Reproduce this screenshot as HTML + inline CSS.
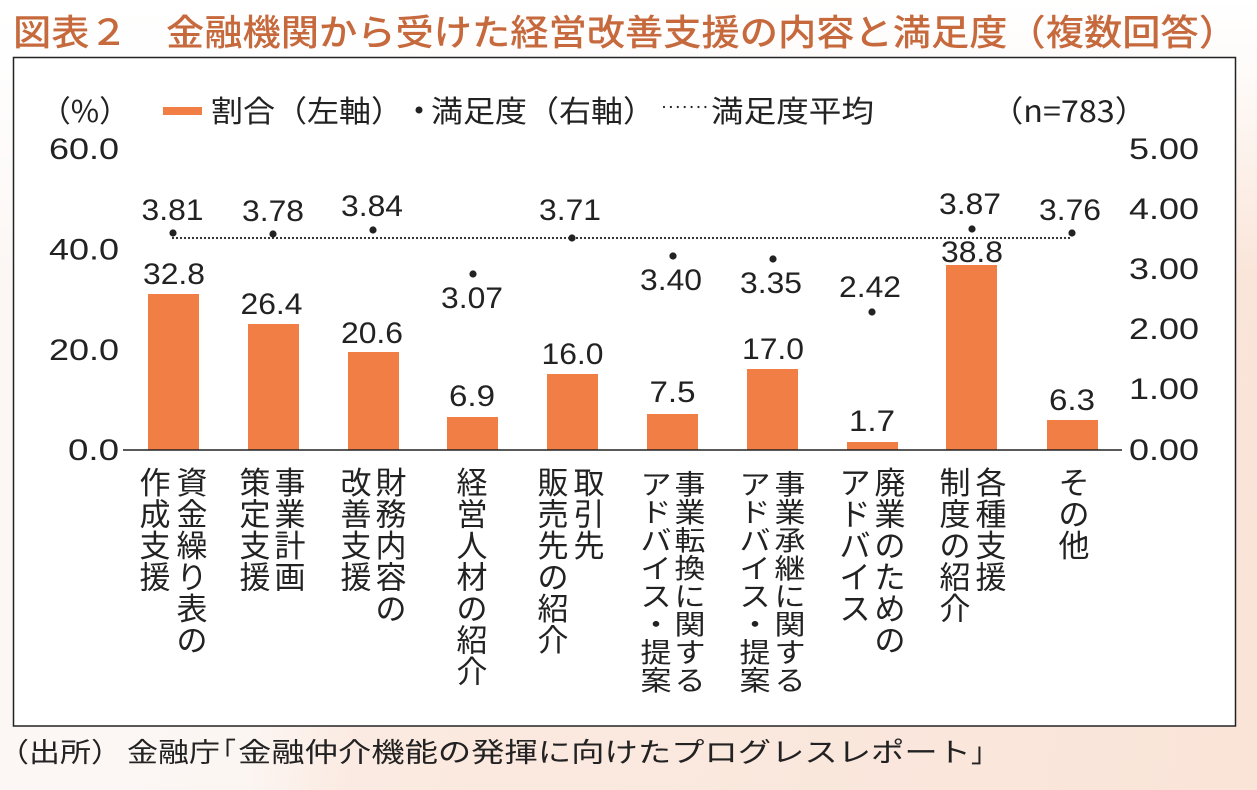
<!DOCTYPE html>
<html>
<head>
<meta charset="utf-8">
<style>
  html, body { margin:0; padding:0; }
  body {
    width:1257px; height:790px; overflow:hidden;
    background:
      linear-gradient(to bottom, rgba(255,255,255,1) 0%, rgba(255,255,255,0.85) 9%, rgba(255,255,255,0) 35%),
      linear-gradient(100deg, #fcf7f5 0%, #fcf6f3 27%, #fbeae1 35%, #fae4d8 100%);
  }
  svg { display:block; position:absolute; left:0; top:0; }
  .t { font-family:"Liberation Sans","Noto Sans CJK JP",sans-serif; fill:#222; }
  .c { font-family:"Noto Sans CJK JP",sans-serif; fill:#222; }
  .n { font-family:"Liberation Sans",sans-serif; fill:#222; font-size:29.5px; }
  .v { font-family:"Liberation Sans","Noto Sans CJK JP",sans-serif; fill:#222; font-size:31px; text-anchor:middle; }
</style>
</head>
<body>
<svg width="1257" height="790" viewBox="0 0 1257 790" xmlns="http://www.w3.org/2000/svg">
  <!-- Title -->
  <text class="t" x="13" y="45" font-size="36" font-weight="500" style="fill:#c66a3e" textLength="1224" lengthAdjust="spacingAndGlyphs">図表２　金融機関から受けた経営改善支援の内容と満足度（複数回答）</text>

  <!-- Frame -->
  <rect x="13.5" y="57.5" width="1222" height="668.5" fill="#ffffff" stroke="#222" stroke-width="1.5"/>

  <!-- Legend -->
  <text class="c" x="40" y="122" font-size="30" textLength="90" lengthAdjust="spacingAndGlyphs">（%）</text>
  <rect x="163" y="107" width="39" height="8" fill="#f17e45"/>
  <text class="t" x="211" y="122" font-size="30" textLength="192" lengthAdjust="spacingAndGlyphs">割合（左軸）</text>
  <circle cx="419" cy="110" r="3.5" fill="#222"/>
  <text class="t" x="431" y="122" font-size="30" textLength="224" lengthAdjust="spacingAndGlyphs">満足度（右軸）</text>
  <line x1="664" y1="107" x2="712" y2="107" stroke="#222" stroke-width="2.2" stroke-linecap="round" stroke-dasharray="0 6.9"/>
  <text class="t" x="711" y="122" font-size="30" textLength="163" lengthAdjust="spacingAndGlyphs">満足度平均</text>
  <text class="c" x="991" y="122" font-size="30" textLength="156" lengthAdjust="spacingAndGlyphs">（n=783）</text>

  <!-- Left axis labels -->
  <g class="n" text-anchor="end">
    <text x="119" y="159" textLength="70" lengthAdjust="spacingAndGlyphs">60.0</text>
    <text x="119" y="259.5" textLength="70" lengthAdjust="spacingAndGlyphs">40.0</text>
    <text x="119" y="360" textLength="70" lengthAdjust="spacingAndGlyphs">20.0</text>
    <text x="119" y="460" textLength="51" lengthAdjust="spacingAndGlyphs">0.0</text>
  </g>
  <!-- Right axis labels -->
  <g class="n">
    <text x="1129" y="159" textLength="70" lengthAdjust="spacingAndGlyphs">5.00</text>
    <text x="1129" y="219" textLength="70" lengthAdjust="spacingAndGlyphs">4.00</text>
    <text x="1129" y="279" textLength="70" lengthAdjust="spacingAndGlyphs">3.00</text>
    <text x="1129" y="339" textLength="70" lengthAdjust="spacingAndGlyphs">2.00</text>
    <text x="1129" y="399" textLength="70" lengthAdjust="spacingAndGlyphs">1.00</text>
    <text x="1129" y="460" textLength="70" lengthAdjust="spacingAndGlyphs">0.00</text>
  </g>

  <!-- Bars -->
  <g fill="#f17e45">
    <rect x="148" y="294" width="51" height="156"/>
    <rect x="248" y="324" width="51" height="126"/>
    <rect x="348" y="352" width="51" height="98"/>
    <rect x="447" y="417" width="51" height="33"/>
    <rect x="547" y="374" width="51" height="76"/>
    <rect x="647" y="414" width="51" height="36"/>
    <rect x="747" y="369" width="51" height="81"/>
    <rect x="847" y="442" width="51" height="8"/>
    <rect x="946" y="265" width="51" height="185"/>
    <rect x="1047" y="420" width="51" height="30"/>
  </g>

  <!-- Baseline -->
  <line x1="123" y1="450" x2="1122" y2="450" stroke="#222" stroke-width="1.4"/>

  <!-- Average dotted line -->
  <line x1="173" y1="238" x2="1070" y2="238" stroke="#222" stroke-width="2.2" stroke-linecap="round" stroke-dasharray="0 4"/>

  <!-- Satisfaction markers -->
  <g fill="#222">
    <circle cx="173" cy="233" r="3.6"/>
    <circle cx="273" cy="234" r="3.6"/>
    <circle cx="373" cy="230" r="3.6"/>
    <circle cx="473" cy="274" r="3.6"/>
    <circle cx="572" cy="238" r="3.6"/>
    <circle cx="673" cy="256" r="3.6"/>
    <circle cx="773" cy="259" r="3.6"/>
    <circle cx="872" cy="312" r="3.6"/>
    <circle cx="972" cy="229" r="3.6"/>
    <circle cx="1072" cy="233" r="3.6"/>
  </g>

  <!-- Marker labels -->
  <g class="n" text-anchor="middle">
    <text x="172.5" y="220" textLength="62" lengthAdjust="spacingAndGlyphs">3.81</text>
    <text x="273" y="221" textLength="62" lengthAdjust="spacingAndGlyphs">3.78</text>
    <text x="372" y="216" textLength="62" lengthAdjust="spacingAndGlyphs">3.84</text>
    <text x="472" y="308" textLength="62" lengthAdjust="spacingAndGlyphs">3.07</text>
    <text x="570" y="220" textLength="62" lengthAdjust="spacingAndGlyphs">3.71</text>
    <text x="671" y="290" textLength="62" lengthAdjust="spacingAndGlyphs">3.40</text>
    <text x="771" y="293" textLength="62" lengthAdjust="spacingAndGlyphs">3.35</text>
    <text x="870" y="297" textLength="62" lengthAdjust="spacingAndGlyphs">2.42</text>
    <text x="970" y="214" textLength="62" lengthAdjust="spacingAndGlyphs">3.87</text>
    <text x="1070" y="220" textLength="62" lengthAdjust="spacingAndGlyphs">3.76</text>
  </g>

  <!-- Bar labels -->
  <g class="n" text-anchor="middle">
    <text x="174" y="284" textLength="62" lengthAdjust="spacingAndGlyphs">32.8</text>
    <text x="271.5" y="314" textLength="62" lengthAdjust="spacingAndGlyphs">26.4</text>
    <text x="372" y="343" textLength="62" lengthAdjust="spacingAndGlyphs">20.6</text>
    <text x="472" y="406" textLength="46" lengthAdjust="spacingAndGlyphs">6.9</text>
    <text x="572.5" y="364" textLength="62" lengthAdjust="spacingAndGlyphs">16.0</text>
    <text x="672.5" y="402" textLength="46" lengthAdjust="spacingAndGlyphs">7.5</text>
    <text x="773" y="359" textLength="62" lengthAdjust="spacingAndGlyphs">17.0</text>
    <text x="872" y="431" textLength="46" lengthAdjust="spacingAndGlyphs">1.7</text>
    <text x="972" y="262" textLength="62" lengthAdjust="spacingAndGlyphs">38.8</text>
    <text x="1072" y="410" textLength="46" lengthAdjust="spacingAndGlyphs">6.3</text>
  </g>

  <!-- Vertical category labels -->
  <g class="v">
    <text x="192 192 192 192 192 192" y="494 525.5 557 588.5 620 651.5">資金繰り表の</text>
    <text x="155 155 155 155" y="494 525.5 557 588.5">作成支援</text>
    <text x="290 290 290 290" y="494 525.5 557 588.5">事業計画</text>
    <text x="255 255 255 255" y="494 525.5 557 588.5">策定支援</text>
    <text x="391 391 391 391 391" y="494 525.5 557 588.5 620">財務内容の</text>
    <text x="356 356 356 356" y="494 525.5 557 588.5">改善支援</text>
    <text x="472 472 472 472 472 472 472" y="494 525.5 557 588.5 620 651.5 683">経営人材の紹介</text>
    <text x="589 589 589" y="494 525.5 557">取引先</text>
    <text x="553 553 553 553 553 553" y="494 525.5 557 588.5 620 651.5">販売先の紹介</text>
    <text transform="translate(690 468) scale(1 0.875)" x="0 0 0 0 0 0 0 0" y="29.7 61.7 93.7 125.7 157.7 189.7 221.7 253.7">事業転換に関する</text>
    <text transform="translate(656 468) scale(1 0.875)" x="0 0 0 0 0 0 0 0" y="29.7 61.7 93.7 125.7 157.7 189.7 221.7 253.7">アドバイス・提案</text>
    <text transform="translate(790 468) scale(1 0.875)" x="0 0 0 0 0 0 0 0" y="29.7 61.7 93.7 125.7 157.7 189.7 221.7 253.7">事業承継に関する</text>
    <text transform="translate(755 468) scale(1 0.875)" x="0 0 0 0 0 0 0 0" y="29.7 61.7 93.7 125.7 157.7 189.7 221.7 253.7">アドバイス・提案</text>
    <text x="890 890 890 890 890 890" y="494 525.5 557 588.5 620 651.5">廃業のための</text>
    <text x="855 855 855 855 855" y="494 525.5 557 588.5 620">アドバイス</text>
    <text x="991 991 991 991" y="494 525.5 557 588.5">各種支援</text>
    <text x="955 955 955 955 955" y="494 525.5 557 588.5 620">制度の紹介</text>
    <text x="1074 1074 1074" y="494 525.5 557">その他</text>
  </g>

  <!-- Footnote -->
  <text class="t" x="-2" y="762" font-size="27" textLength="124" lengthAdjust="spacingAndGlyphs">（出所）</text>
  <text class="t" x="127" y="762" font-size="27" textLength="93" lengthAdjust="spacingAndGlyphs">金融庁</text>
  <text class="t" x="209" y="762" font-size="27">「</text>
  <text class="t" x="238" y="762" font-size="27" textLength="733" lengthAdjust="spacingAndGlyphs">金融仲介機能の発揮に向けたプログレスレポート</text>
  <text class="t" x="971" y="762" font-size="27">」</text>
</svg>
</body>
</html>
